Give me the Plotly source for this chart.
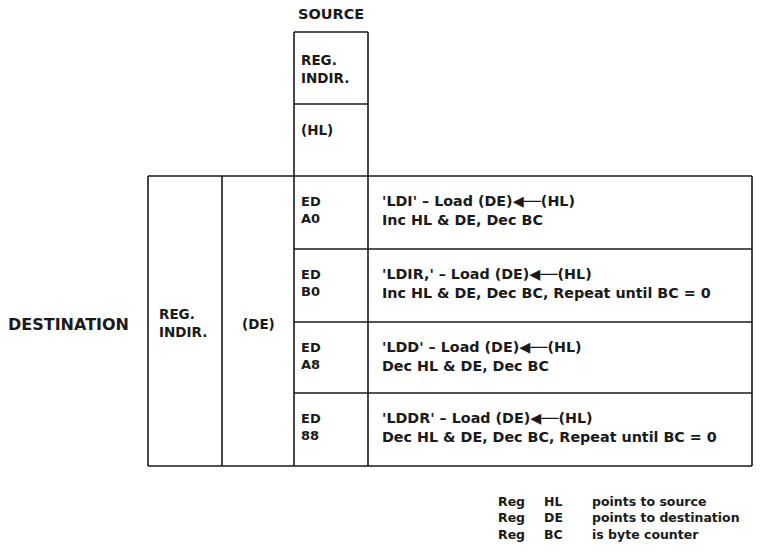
import plotly.graph_objects as go

# ---- data ----
source_title = "SOURCE"
source_mode = ["REG.", "INDIR."]
source_reg = "(HL)"
dest_title = "DESTINATION"
dest_mode = ["REG.", "INDIR."]
dest_reg = "(DE)"
opcodes = [["ED", "A0"], ["ED", "B0"], ["ED", "A8"], ["ED", "88"]]
mnemonics = ["'LDI'", "'LDIR,'", "'LDD'", "'LDDR'"]
actions = ["Load (DE)◀──(HL)"] * 4
effects = ["Inc HL & DE, Dec BC",
           "Inc HL & DE, Dec BC, Repeat until BC = 0",
           "Dec HL & DE, Dec BC",
           "Dec HL & DE, Dec BC, Repeat until BC = 0"]
legend_reg = ["Reg", "Reg", "Reg"]
legend_name = ["HL", "DE", "BC"]
legend_text = ["points to source", "points to destination", "is byte counter"]

# ---- layout geometry (pixel space of the 760x554 window) ----
W, H = 760, 554
FONT = "DejaVu Sans"
COL = "#1a1a1a"
LW = 1.6

x_left, x_mid, x_op, x_desc, x_right = 148, 222, 294, 368, 752
y_src_top, y_src_div, y_top, y_bot = 32, 104, 176, 466
row_edges = [176, 249, 322, 393, 466]

shapes = []
def line(x0, y0, x1, y1):
    shapes.append(dict(type="line", x0=x0, y0=y0, x1=x1, y1=y1, xref="x", yref="y",
                       line=dict(color=COL, width=LW)))

# source box
line(x_op, y_src_top, x_desc, y_src_top)
line(x_op, y_src_div, x_desc, y_src_div)
line(x_op, y_src_top, x_op, y_bot)
line(x_desc, y_src_top, x_desc, y_bot)
# main table
line(x_left, y_top, x_right, y_top)
line(x_left, y_bot, x_right, y_bot)
line(x_left, y_top, x_left, y_bot)
line(x_mid, y_top, x_mid, y_bot)
line(x_right, y_top, x_right, y_bot)
for ye in row_edges[1:-1]:
    line(x_op, ye, x_right, ye)

ann = []
def text(x, y, s, size, anchor="left", weight="bold"):
    ann.append(dict(x=x, y=y, xref="x", yref="y", text=s, showarrow=False,
                    xanchor=anchor, yanchor="middle", align="left",
                    font=dict(family=FONT, size=size, color=COL, weight=weight)))

text(331, 14, source_title, 14.5, anchor="center")
text(299, 69, "<br>".join(source_mode), 13.5)
text(299, 130, source_reg, 13.5)
text(6, 324, dest_title, 16)
text(157, 323, "<br>".join(dest_mode), 13.5)
text(240, 324, dest_reg, 13.5)

for i in range(len(opcodes)):
    y0 = row_edges[i]
    text(299, y0 + 34, "<br>".join(opcodes[i]), 13)
    text(380, y0 + 34, f"{mnemonics[i]} – {actions[i]}<br>{effects[i]}", 14.3)

LS = 12.5
text(496, 518, "<br>".join(legend_reg), LS)
text(542, 518, "<br>".join(legend_name), LS)
text(590, 518, "<br>".join(legend_text), LS)

fig = go.Figure()
fig.update_layout(
    width=W, height=H, margin=dict(l=0, r=0, t=0, b=0),
    paper_bgcolor="white", plot_bgcolor="white",
    xaxis=dict(range=[0, W], visible=False, fixedrange=True),
    yaxis=dict(range=[H, 0], visible=False, fixedrange=True),
    shapes=shapes, annotations=ann, showlegend=False,
)
fig.write_html("out.html", config={"displayModeBar": False},
               post_script="document.body.style.margin='0px';document.body.style.overflow='hidden';")
